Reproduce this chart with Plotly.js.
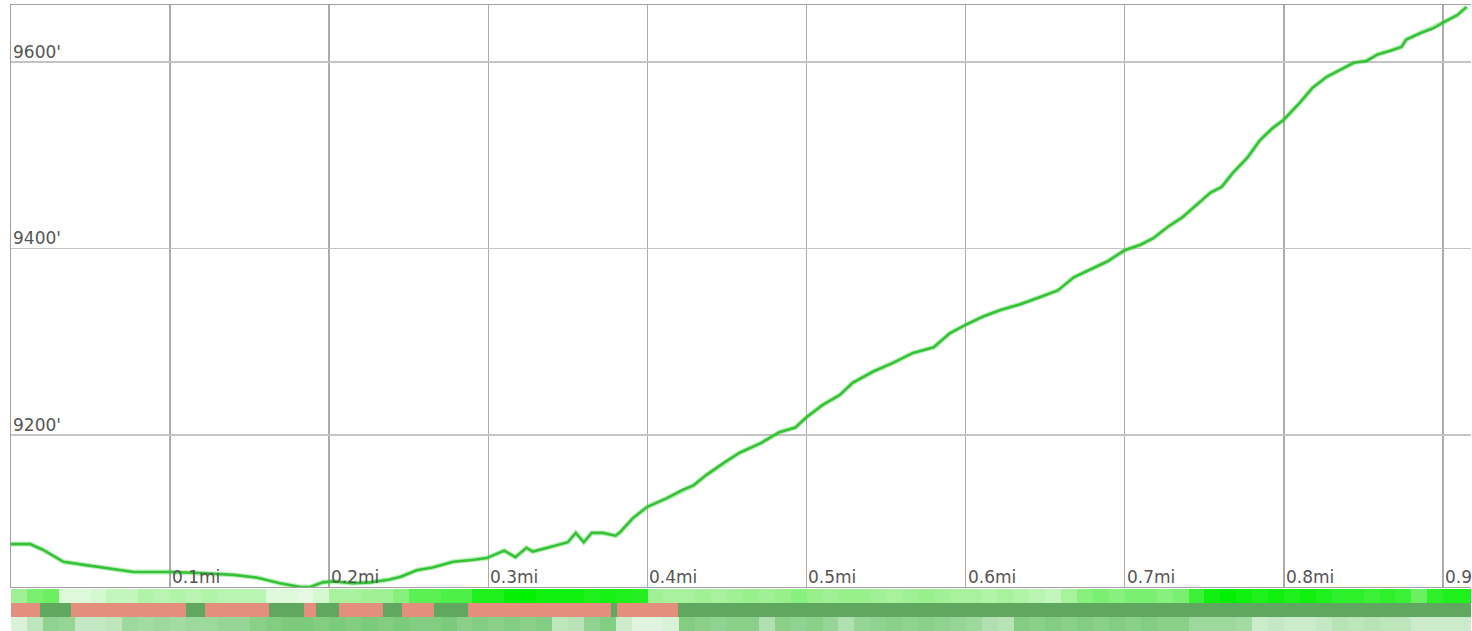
<!DOCTYPE html>
<html>
<head>
<meta charset="utf-8">
<script src="https://cdn.plot.ly/plotly-3.0.1.min.js"></script>
<style>html,body{margin:0;padding:0;background:#fff;}#chart{width:1472px;height:631px;}</style>
</head>
<body>
<div id="chart"></div>
<script>
// Elevation profile (distance in miles, elevation in feet)
const distMi = [0.000,0.012,0.020,0.033,0.045,0.062,0.077,0.100,0.119,0.140,
  0.155,0.169,0.182,0.188,0.196,0.203,0.215,0.226,0.238,0.245,
  0.255,0.265,0.278,0.290,0.299,0.310,0.317,0.324,0.328,0.339,
  0.350,0.355,0.360,0.365,0.372,0.380,0.383,0.391,0.400,0.412,
  0.422,0.429,0.437,0.448,0.458,0.471,0.483,0.493,0.500,0.510,
  0.521,0.529,0.542,0.554,0.567,0.580,0.590,0.600,0.611,0.622,
  0.634,0.647,0.658,0.668,0.678,0.689,0.700,0.710,0.718,0.727,
  0.736,0.745,0.754,0.761,0.768,0.777,0.785,0.793,0.800,0.810,
  0.818,0.827,0.835,0.844,0.852,0.859,0.867,0.874,0.877,0.886,
  0.894,0.900,0.909,0.915];
const elevFt = [9083,9083,9077,9064,9061,9057,9053,9053,9052,9050,
  9047,9041,9037,9037,9042,9043,9041,9042,9045,9048,
  9055,9058,9064,9066,9068,9076,9069,9079,9075,9080,
  9085,9095,9085,9095,9095,9092,9096,9111,9123,9132,
  9141,9146,9157,9170,9181,9191,9203,9208,9219,9232,
  9243,9256,9268,9277,9288,9294,9309,9318,9327,9334,
  9340,9348,9355,9369,9377,9386,9398,9404,9411,9423,
  9433,9447,9460,9466,9481,9497,9516,9529,9538,9556,
  9572,9584,9591,9599,9601,9608,9612,9616,9624,9631,
  9636,9642,9650,9659];

// Tick values / labels
const xTickVals = [0.1,0.2,0.3,0.4,0.5,0.6,0.7,0.8,0.9];
const xTickText = ['0.1mi','0.2mi','0.3mi','0.4mi','0.5mi','0.6mi','0.7mi','0.8mi','0.9mi'];
const yTickVals = [9200,9400,9600];
const yTickText = ["9200'","9400'","9600'"];

// Strip 1: gradient intensity per 0.01 mi
const stripGrade = [0.45,0.6,0.65,0.1,0.1,0.15,0.25,0.25,0.35,0.3,
  0.35,0.3,0.35,0.3,0.3,0.3,0.1,0.1,0.05,0.15,
  0.4,0.4,0.45,0.45,0.55,0.7,0.7,0.75,0.75,0.9,
  0.9,0.98,1.0,0.95,0.95,0.95,0.9,0.92,0.9,0.88,
  0.45,0.4,0.4,0.45,0.4,0.45,0.5,0.45,0.5,0.55,
  0.5,0.45,0.5,0.5,0.45,0.4,0.45,0.5,0.45,0.4,
  0.4,0.35,0.4,0.35,0.3,0.25,0.4,0.55,0.6,0.55,
  0.6,0.6,0.55,0.6,0.8,0.95,1.0,0.95,0.9,0.95,
  0.9,0.95,0.9,0.85,0.85,0.8,0.85,0.8,0.65,0.85,
  0.9,0.9];
// Strip 2: surface segments (edges in mi, class 1 = salmon, 0 = green)
const surfaceEdges = [0,0.018,0.038,0.110,0.122,0.162,0.184,0.192,0.206,0.234,0.246,0.266,0.287,0.377,0.381,0.419,0.92];
const surfaceClass = [1,0,1,0,1,0,1,0,1,0,1,0,1,0,1,0];
// Strip 3: shading per 0.01 mi
const stripShade = [0.1,0.3,0.65,0.6,0.25,0.25,0.3,0.55,0.5,0.55,
  0.5,0.55,0.55,0.6,0.6,0.7,0.75,0.8,0.8,0.75,
  0.8,0.75,0.8,0.75,0.8,0.75,0.75,0.8,0.7,0.75,
  0.7,0.75,0.7,0.75,0.3,0.35,0.65,0.75,0.2,0.05,
  0.05,0.1,0.75,0.7,0.65,0.7,0.7,0.4,0.7,0.65,
  0.7,0.6,0.4,0.6,0.65,0.7,0.65,0.7,0.65,0.6,
  0.55,0.4,0.35,0.75,0.7,0.75,0.7,0.75,0.7,0.75,
  0.7,0.75,0.7,0.7,0.55,0.55,0.55,0.5,0.2,0.25,
  0.2,0.2,0.25,0.35,0.3,0.35,0.3,0.3,0.2,0.2,
  0.2,0.2];

const xMax = 0.9177;
const font = {family: 'DejaVu Sans, sans-serif', size: 17, color: '#555'};

const traces = [
  {type: 'scatter', mode: 'lines', x: distMi, y: elevFt,
   line: {color: 'rgba(60,210,60,0.35)', width: 5}, hoverinfo: 'skip', xaxis: 'x', yaxis: 'y'},
  {type: 'scatter', mode: 'lines', x: distMi, y: elevFt,
   line: {color: '#36c236', width: 2.6}, hoverinfo: 'skip', xaxis: 'x', yaxis: 'y'},
  {type: 'heatmap', z: [stripGrade], x0: 0.005, dx: 0.01, y0: 2, dy: 1,
   zmin: 0, zmax: 1, showscale: false, hoverinfo: 'skip',
   colorscale: [[0,'#eefbec'],[0.5,'#97f08b'],[1,'#00f000']], xaxis: 'x2', yaxis: 'y2'},
  {type: 'heatmap', z: [surfaceClass], x: surfaceEdges, y0: 1, dy: 1,
   zmin: 0, zmax: 1, showscale: false, hoverinfo: 'skip',
   colorscale: [[0,'#60a860'],[0.5,'#60a860'],[0.5,'#e48f7e'],[1,'#e48f7e']], xaxis: 'x2', yaxis: 'y2'},
  {type: 'heatmap', z: [stripShade], x0: 0.005, dx: 0.01, y0: 0, dy: 1,
   zmin: 0, zmax: 1, showscale: false, hoverinfo: 'skip',
   colorscale: [[0,'#e6f6e4'],[1,'#62bf62']], xaxis: 'x2', yaxis: 'y2'}
];

const annotations = [];
xTickVals.forEach((v, i) => annotations.push({
  x: v, y: 0, xref: 'x', yref: 'y domain', xanchor: 'left', yanchor: 'bottom',
  text: xTickText[i], showarrow: false, font: font, xshift: 0, yshift: -2
}));
yTickVals.forEach((v, i) => annotations.push({
  x: 0, y: v, xref: 'x', yref: 'y', xanchor: 'left', yanchor: 'bottom',
  text: yTickText[i], showarrow: false, font: font, xshift: 0, yshift: -2
}));

const layout = {
  width: 1472, height: 631,
  margin: {l: 11, r: 1, t: 5, b: 0, pad: 0},
  paper_bgcolor: '#fff', plot_bgcolor: '#fff',
  showlegend: false,
  xaxis: {domain: [0, 1], range: [0, xMax], anchor: 'y', tickvals: xTickVals,
    showticklabels: false, ticks: '', showgrid: true, gridcolor: '#ababab', gridwidth: 1.5,
    zeroline: false, showline: true, linecolor: '#a0a0a0', linewidth: 1.5, mirror: true},
  yaxis: {domain: [0.0703, 1], range: [9037, 9661], anchor: 'x', tickvals: yTickVals,
    showticklabels: false, ticks: '', showgrid: true, gridcolor: '#c4c4c4', gridwidth: 1.5,
    zeroline: false, showline: true, linecolor: '#a0a0a0', linewidth: 1.5},
  xaxis2: {domain: [0, 1], range: [0, xMax], anchor: 'y2', visible: false},
  yaxis2: {domain: [0, 0.0671], range: [-0.5, 2.5], anchor: 'x2', visible: false},
  annotations: annotations
};

Plotly.newPlot('chart', traces, layout, {staticPlot: true, displayModeBar: false});
</script>
</body>
</html>
